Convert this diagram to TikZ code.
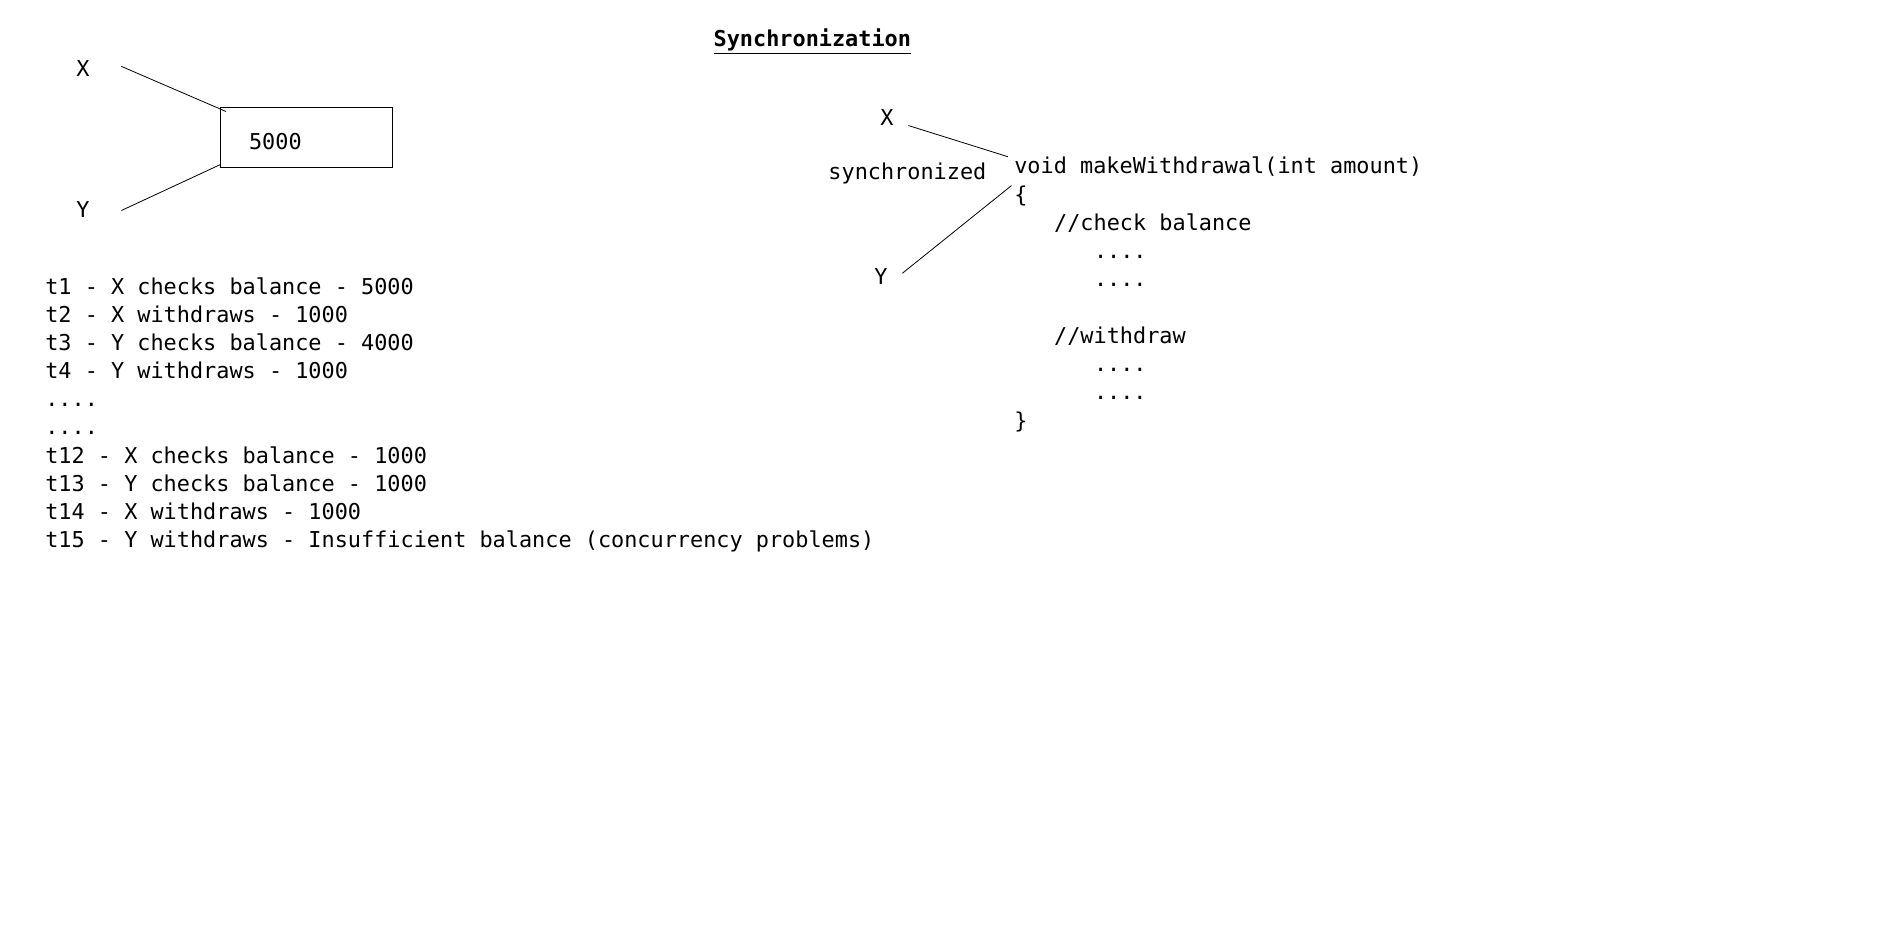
\documentclass[tikz,border=0pt]{standalone}
\usepackage{fontspec}
\setmonofont{DejaVu Sans Mono}
\usetikzlibrary{positioning}

\begin{document}
\begin{tikzpicture}[
    x=0.60353pt, y=-0.60353pt,
    label/.style={
        font=\ttfamily\fontsize{10.93}{14}\selectfont,
        inner sep=0pt,
        anchor=base west
    },
    heading/.style={
        font=\ttfamily\bfseries\fontsize{10.93}{14}\selectfont,
        inner sep=0pt,
        anchor=base
    },
    account/.style={
        rectangle,
        draw,
        line width=0.5pt,
        inner sep=0pt,
        minimum width=85.8pt,
        minimum height=30pt,
        anchor=north west
    },
    link/.style={draw, line width=0.4pt}
]
\useasboundingbox (0,0) rectangle (1560,788);

% Title
\node[heading] (title) at (673,38.5) {\underline{Synchronization}};

% Shared account
\node[label] (lx) at (63,63.6) {X};
\node[label] (ly) at (63,180) {Y};
\node[account] (acct) at (182.3,88.9) {};
\node[label] (amt) at (206,123.5) {5000};
\draw[link] ([shift={(26,-2)}]lx.east) -- ([shift={(5,3.5)}]acct.north west);
\draw[link] ([shift={(26,1)}]ly.east) -- ([shift={(0,-3)}]acct.south west);

% Timeline
\node[label] (t1)  at (37.2,243.6) {t1 - X checks balance - 5000};
\node[label] (t2)  at (37.2,266.9) {t2 - X withdraws - 1000};
\node[label] (t3)  at (37.2,290.3) {t3 - Y checks balance - 4000};
\node[label] (t4)  at (37.2,313.6) {t4 - Y withdraws - 1000};
\node[label] (d1)  at (37.2,336.9) {....};
\node[label] (d2)  at (37.2,360.3) {....};
\node[label] (t12) at (37.2,383.6) {t12 - X checks balance - 1000};
\node[label] (t13) at (37.2,406.9) {t13 - Y checks balance - 1000};
\node[label] (t14) at (37.2,430.2) {t14 - X withdraws - 1000};
\node[label] (t15) at (37.2,453.6) {t15 - Y withdraws - Insufficient balance (concurrency problems)};

% Synchronized method
\node[label] (rx) at (729,103.6) {X};
\node[label] (ry) at (724,236) {Y};
\node[label] (sync) at (686,149) {synchronized};
\node[label] (sig)   at (840,144)   {void makeWithdrawal(int amount)};
\node[label] (open)  at (840,167.4) {\{};
\node[label] (chk)   at (873,190.8) {//check balance};
\node[label] (chkA)  at (906,214.2) {....};
\node[label] (chkB)  at (906,237.6) {....};
\node[label] (wd)    at (873,284.4) {//withdraw};
\node[label] (wdA)   at (906,307.8) {....};
\node[label] (wdB)   at (906,331.2) {....};
\node[label] (close) at (840,354.6) {\}};
\draw[link] ([shift={(12,7)}]rx.east) -- ([shift={(-5,0)}]sig.north west);
\draw[link] ([shift={(12,-3)}]ry.east) -- ([shift={(-2,7)}]sig.south west);

\end{tikzpicture}
\end{document}
